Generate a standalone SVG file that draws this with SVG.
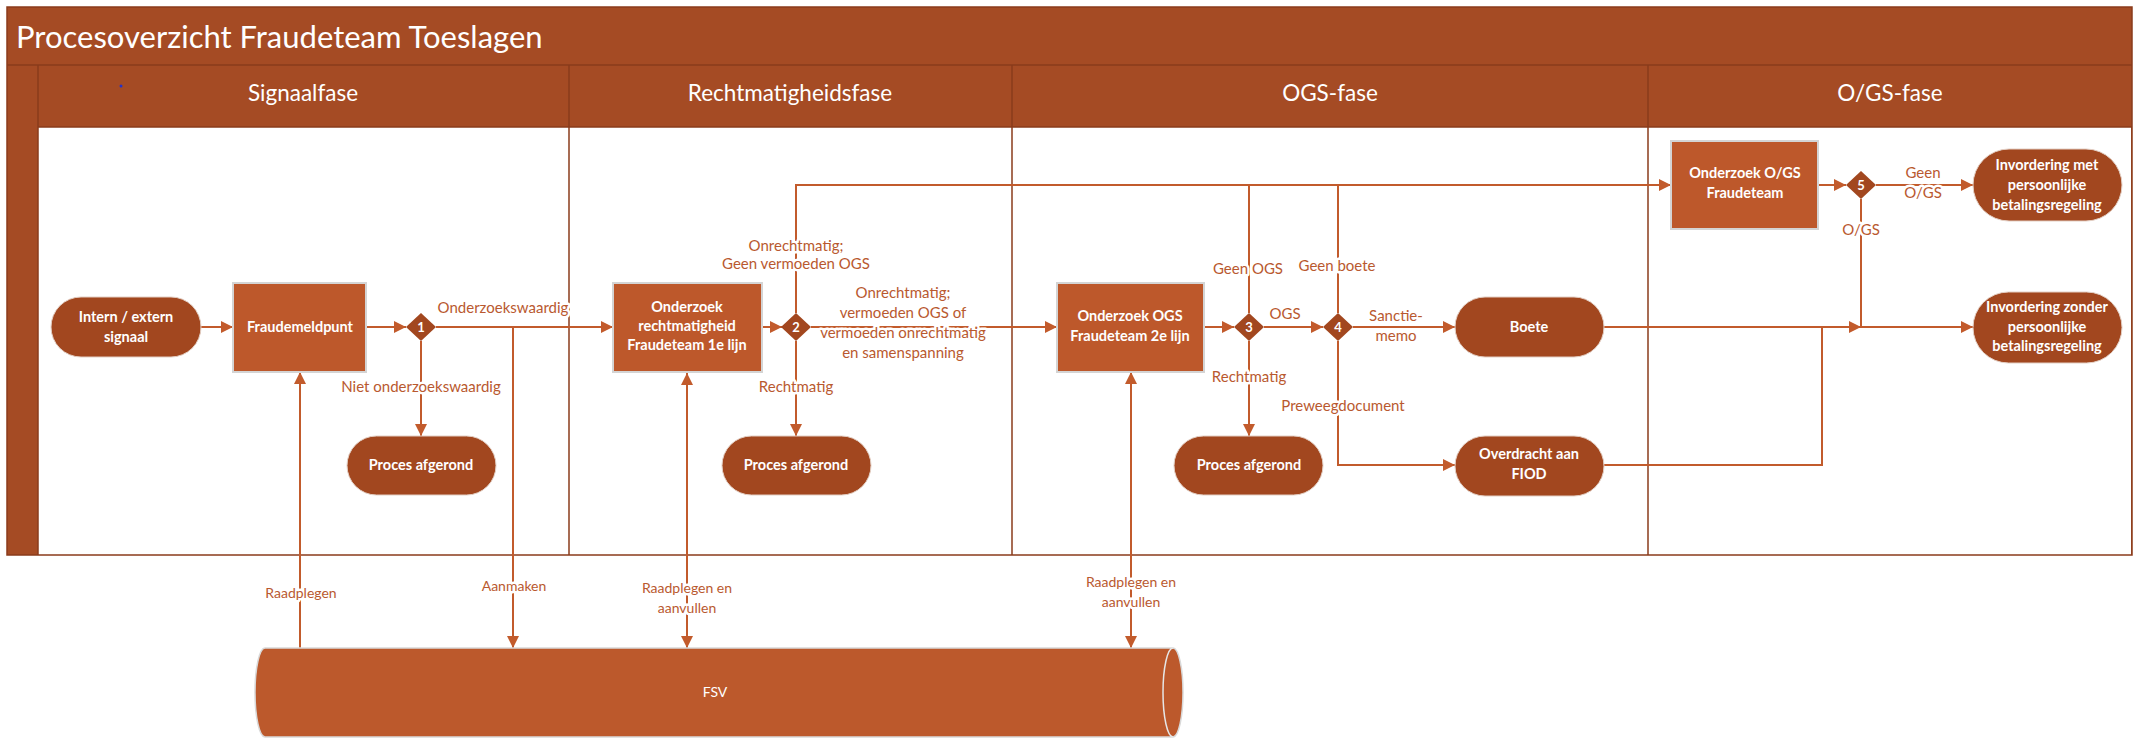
<svg xmlns="http://www.w3.org/2000/svg" width="2139" height="740" viewBox="0 0 2139 740">
<defs>
<style>
.bar{fill:#A54B24}
.rect{fill:#BD582B;stroke:#D4D4D4;stroke-width:2}
.pill{fill:#A2471F;stroke:#E3CFC4;stroke-width:1}
.dia{fill:#A2471F}
.div{stroke:#8A3B1B;stroke-width:1.5;fill:none}
.ln{stroke:#C25B2C;stroke-width:2;fill:none}
.t{font-family:Lato,"Open Sans",sans-serif;fill:#fff;text-anchor:middle}
.title{font-size:31px;text-anchor:start}
.hdr{font-size:22.5px}
.nt{font-size:14.5px;font-weight:bold}
.num{font-size:13px;font-weight:bold}
.lbl{font-family:Lato,"Open Sans",sans-serif;font-size:15px;fill:#B9592F;text-anchor:middle;stroke:#fff;stroke-width:5px;paint-order:stroke;stroke-linejoin:round}
.sm{font-size:14px}
</style>
<marker id="ah" viewBox="0 0 12 12" refX="12" refY="6" markerWidth="12" markerHeight="12" markerUnits="userSpaceOnUse" orient="auto-start-reverse"><path d="M0,0 L12,6 L0,12 z" fill="#C25B2C"/></marker>
</defs>

<g id="frame">
<rect x="7" y="7" width="2125" height="548" class="bar"/>
<rect x="38" y="127" width="2093" height="428" fill="#fff"/>
<line x1="7" y1="65" x2="2132" y2="65" class="div"/>
<line x1="38" y1="127" x2="2132" y2="127" class="div"/>
<line x1="38" y1="65" x2="38" y2="555" class="div"/>
<line x1="569" y1="65" x2="569" y2="555" class="div"/>
<line x1="1012" y1="65" x2="1012" y2="555" class="div"/>
<line x1="1648" y1="65" x2="1648" y2="555" class="div"/>
<rect x="7" y="7" width="2125" height="548" fill="none" stroke="#8A3B1B" stroke-width="1.5"/>
<text x="16" y="48" class="t title">Procesoverzicht Fraudeteam Toeslagen</text>
<text x="303" y="101" class="t hdr">Signaalfase</text>
<text x="790" y="101" class="t hdr">Rechtmatigheidsfase</text>
<text x="1330" y="101" class="t hdr">OGS-fase</text>
<text x="1890" y="101" class="t hdr">O/GS-fase</text>
<circle cx="121" cy="86" r="1.5" fill="#2233cc"/>
</g>

<g id="connectors">
<path class="ln" d="M201 327 H233" marker-end="url(#ah)"/>
<path class="ln" d="M366 327 H406" marker-end="url(#ah)"/>
<path class="ln" d="M436 327 H613" marker-end="url(#ah)"/>
<path class="ln" d="M421 341 V436" marker-end="url(#ah)"/>
<path class="ln" d="M513 327 V648" marker-end="url(#ah)"/>
<path class="ln" d="M300 648 V372" marker-end="url(#ah)"/>
<path class="ln" d="M687 373 V648" marker-start="url(#ah)" marker-end="url(#ah)"/>
<path class="ln" d="M762 327 H782" marker-end="url(#ah)"/>
<path class="ln" d="M796 313 V185 H1671" marker-end="url(#ah)"/>
<path class="ln" d="M796 341 V436" marker-end="url(#ah)"/>
<path class="ln" d="M811 327 H1057" marker-end="url(#ah)"/>
<path class="ln" d="M1131 372 V648" marker-start="url(#ah)" marker-end="url(#ah)"/>
<path class="ln" d="M1204 327 H1234" marker-end="url(#ah)"/>
<path class="ln" d="M1249 313 V185"/>
<path class="ln" d="M1249 341 V436" marker-end="url(#ah)"/>
<path class="ln" d="M1264 327 H1323" marker-end="url(#ah)"/>
<path class="ln" d="M1338 313 V185"/>
<path class="ln" d="M1353 327 H1455" marker-end="url(#ah)"/>
<path class="ln" d="M1338 341 V465 H1455" marker-end="url(#ah)"/>
<path class="ln" d="M1604 327 H1861" marker-end="url(#ah)"/>
<path class="ln" d="M1604 465 H1822 V327"/>
<path class="ln" d="M1861 327 H1973" marker-end="url(#ah)"/>
<path class="ln" d="M1818 185 H1846" marker-end="url(#ah)"/>
<path class="ln" d="M1876 185 H1973" marker-end="url(#ah)"/>
<path class="ln" d="M1861 199 V327"/>
<text class="lbl" x="503" y="313">Onderzoekswaardig</text>
<text class="lbl" x="421" y="392">Niet onderzoekswaardig</text>
<text class="lbl" x="796" y="251">Onrechtmatig;</text>
<text class="lbl" x="796" y="269">Geen vermoeden OGS</text>
<text class="lbl" x="796" y="392">Rechtmatig</text>
<text class="lbl" x="903" y="298">Onrechtmatig;</text>
<text class="lbl" x="903" y="318">vermoeden OGS of</text>
<text class="lbl" x="903" y="338">vermoeden onrechtmatig</text>
<text class="lbl" x="903" y="358">en samenspanning</text>
<text class="lbl" x="1248" y="274">Geen OGS</text>
<text class="lbl" x="1249" y="382">Rechtmatig</text>
<text class="lbl" x="1285" y="319">OGS</text>
<text class="lbl" x="1337" y="271">Geen boete</text>
<text class="lbl" x="1396" y="321">Sanctie-</text>
<text class="lbl" x="1396" y="341">memo</text>
<text class="lbl" x="1343" y="411">Preweegdocument</text>
<text class="lbl" x="1923" y="178">Geen</text>
<text class="lbl" x="1923" y="198">O/GS</text>
<text class="lbl" x="1861" y="235">O/GS</text>
<text class="lbl sm" x="301" y="598">Raadplegen</text>
<text class="lbl sm" x="514" y="591">Aanmaken</text>
<text class="lbl sm" x="687" y="593">Raadplegen en</text>
<text class="lbl sm" x="687" y="613">aanvullen</text>
<text class="lbl sm" x="1131" y="587">Raadplegen en</text>
<text class="lbl sm" x="1131" y="607">aanvullen</text>
</g>

<g id="n-signaal"><rect class="pill" x="51" y="297" width="150" height="60" rx="30"/><text class="t nt" x="126" y="322">Intern / extern</text><text class="t nt" x="126" y="342">signaal</text></g>
<g id="n-fraudemeldpunt"><rect class="rect" x="233" y="283" width="133" height="89"/><text class="t nt" x="300" y="332">Fraudemeldpunt</text></g>
<g id="n-d1"><path class="dia" d="M421 313 L436 327 L421 341 L406 327 Z"/><text class="t num" x="421" y="332">1</text></g>
<g id="n-afgerond1"><rect class="pill" x="347" y="436" width="149" height="59" rx="29.5"/><text class="t nt" x="421" y="470">Proces afgerond</text></g>
<g id="n-rechtmatigheid"><rect class="rect" x="613" y="283" width="149" height="89"/><text class="t nt" x="687" y="312">Onderzoek</text><text class="t nt" x="687" y="331">rechtmatigheid</text><text class="t nt" x="687" y="350">Fraudeteam 1e lijn</text></g>
<g id="n-d2"><path class="dia" d="M796 313 L811 327 L796 341 L781 327 Z"/><text class="t num" x="796" y="332">2</text></g>
<g id="n-afgerond2"><rect class="pill" x="722" y="436" width="149" height="59" rx="29.5"/><text class="t nt" x="796" y="470">Proces afgerond</text></g>
<g id="n-ogs"><rect class="rect" x="1057" y="283" width="147" height="89"/><text class="t nt" x="1130" y="321">Onderzoek OGS</text><text class="t nt" x="1130" y="341">Fraudeteam 2e lijn</text></g>
<g id="n-d3"><path class="dia" d="M1249 313 L1264 327 L1249 341 L1234 327 Z"/><text class="t num" x="1249" y="332">3</text></g>
<g id="n-afgerond3"><rect class="pill" x="1174" y="436" width="149" height="59" rx="29.5"/><text class="t nt" x="1249" y="470">Proces afgerond</text></g>
<g id="n-d4"><path class="dia" d="M1338 313 L1353 327 L1338 341 L1323 327 Z"/><text class="t num" x="1338" y="332">4</text></g>
<g id="n-boete"><rect class="pill" x="1455" y="297" width="149" height="60" rx="30"/><text class="t nt" x="1529" y="332">Boete</text></g>
<g id="n-fiod"><rect class="pill" x="1455" y="436" width="149" height="60" rx="30"/><text class="t nt" x="1529" y="459">Overdracht aan</text><text class="t nt" x="1529" y="479">FIOD</text></g>
<g id="n-ogs2"><rect class="rect" x="1671" y="141" width="147" height="88"/><text class="t nt" x="1745" y="178">Onderzoek O/GS</text><text class="t nt" x="1745" y="198">Fraudeteam</text></g>
<g id="n-d5"><path class="dia" d="M1861 171 L1876 185 L1861 199 L1846 185 Z"/><text class="t num" x="1861" y="190">5</text></g>
<g id="n-inv-met"><rect class="pill" x="1973" y="149" width="149" height="72" rx="36"/><text class="t nt" x="2047" y="170">Invordering met</text><text class="t nt" x="2047" y="190">persoonlijke</text><text class="t nt" x="2047" y="210">betalingsregeling</text></g>
<g id="n-inv-zonder"><rect class="pill" x="1973" y="292" width="149" height="71" rx="35.5"/><text class="t nt" x="2047" y="312">Invordering zonder</text><text class="t nt" x="2047" y="332">persoonlijke</text><text class="t nt" x="2047" y="351">betalingsregeling</text></g>
<g id="n-fsv"><path d="M265 648 H1173 A10 44.5 0 0 1 1173 737 H265 A10 44.5 0 0 1 265 648 Z" fill="#BC592C" stroke="#D9D9D9" stroke-width="1.5"/><path d="M1173 648 A10 44.5 0 0 0 1173 737" fill="none" stroke="#E6E6E6" stroke-width="1.5"/><text class="t sm" x="715" y="697">FSV</text></g>
</svg>
